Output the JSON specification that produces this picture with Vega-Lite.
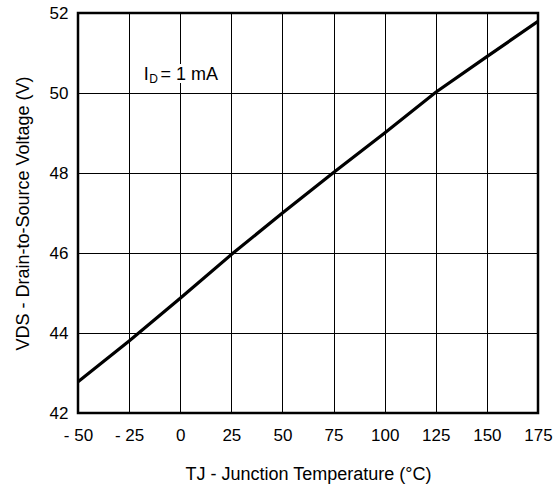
{
  "$schema": "https://vega.github.io/schema/vega-lite/v6.json",
  "width": 460,
  "height": 400,
  "autosize": "none",
  "padding": {"left": 78, "top": 13, "right": 22, "bottom": 75},
  "background": "white",
  "config": {
    "font": "Liberation Sans",
    "view": {"stroke": "black", "strokeWidth": 2.5},
    "axis": {
      "labelFont": "Liberation Sans",
      "titleFont": "Liberation Sans",
      "labelFontSize": 17,
      "titleFontSize": 18,
      "labelFontWeight": "normal",
      "titleFontWeight": "normal",
      "labelColor": "black",
      "titleColor": "black",
      "gridColor": "black",
      "gridOpacity": 1,
      "gridWidth": 1,
      "domain": false,
      "ticks": false
    }
  },
  "layer": [
    {
      "data": {
        "values": [
          {"t": -50, "v": 42.78},
          {"t": -25, "v": 43.8},
          {"t": 0, "v": 44.87},
          {"t": 25, "v": 45.96},
          {"t": 50, "v": 47.0},
          {"t": 75, "v": 48.01},
          {"t": 100, "v": 49.0},
          {"t": 125, "v": 50.02},
          {"t": 150, "v": 50.91},
          {"t": 175, "v": 51.79}
        ]
      },
      "mark": {"type": "line", "color": "black", "strokeWidth": 3.2, "clip": true},
      "encoding": {
        "x": {
          "field": "t",
          "type": "quantitative",
          "scale": {"domain": [-50, 175], "nice": false, "zero": false},
          "axis": {
            "values": [-50, -25, 0, 25, 50, 75, 100, 125, 150, 175],
            "labelExpr": "datum.value < 0 ? '- ' + abs(datum.value) : datum.label",
            "labelPadding": 14,
            "titlePadding": 22,
            "labelFlush": false,
            "title": "TJ - Junction Temperature (°C)"
          }
        },
        "y": {
          "field": "v",
          "type": "quantitative",
          "scale": {"domain": [42, 52], "nice": false, "zero": false},
          "axis": {
            "values": [42, 44, 46, 48, 50, 52],
            "labelPadding": 10,
            "titlePadding": 17,
            "labelFlush": false,
            "title": "VDS - Drain-to-Source Voltage (V)"
          }
        }
      }
    },
    {
      "data": {"values": [{"label": "= 1 mA"}]},
      "mark": {"type": "text", "fontSize": 18, "fontWeight": "normal", "align": "left", "baseline": "middle", "color": "white", "stroke": "white", "strokeWidth": 6, "font": "Liberation Sans"},
      "encoding": {
        "x": {"datum": -9.6},
        "y": {"datum": 50.46},
        "text": {"field": "label"}
      }
    },
    {
      "data": {"values": [{"label": "I"}]},
      "mark": {"type": "text", "fontSize": 18, "fontWeight": "normal", "align": "left", "baseline": "middle", "color": "black", "font": "Liberation Sans"},
      "encoding": {
        "x": {"datum": -17.8},
        "y": {"datum": 50.46},
        "text": {"field": "label"}
      }
    },
    {
      "data": {"values": [{"label": "D"}]},
      "mark": {"type": "text", "fontSize": 12, "fontWeight": "normal", "align": "left", "baseline": "middle", "color": "black", "font": "Liberation Sans", "dy": 4},
      "encoding": {
        "x": {"datum": -15.2},
        "y": {"datum": 50.46},
        "text": {"field": "label"}
      }
    },
    {
      "data": {"values": [{"label": "= 1 mA"}]},
      "mark": {"type": "text", "fontSize": 18, "fontWeight": "normal", "align": "left", "baseline": "middle", "color": "black", "font": "Liberation Sans"},
      "encoding": {
        "x": {"datum": -9.6},
        "y": {"datum": 50.46},
        "text": {"field": "label"}
      }
    }
  ]
}
